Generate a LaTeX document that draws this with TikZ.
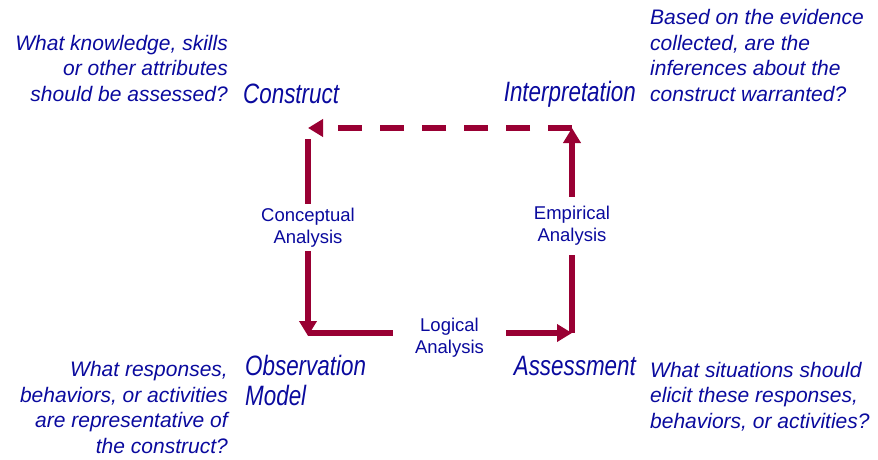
\documentclass[tikz,border=0pt]{standalone}
\usepackage{fontspec}
\setmainfont{Liberation Sans}
\newfontfamily\narrowit[FakeStretch=0.8]{Liberation Sans}
\usetikzlibrary{arrows.meta}
\definecolor{arrowred}{HTML}{990033}
\definecolor{textblue}{HTML}{0A0A9E}
\tikzset{
  stage/.style={text=textblue, font=\narrowit\itshape\fontsize{28}{30}\selectfont, inner sep=0pt},
  question/.style={text=textblue, font=\itshape\fontsize{21}{25.5}\selectfont, inner sep=0pt},
  analysis/.style={text=textblue, font=\fontsize{18.5}{22}\selectfont, align=center, fill=white, inner sep=2pt},
  flow/.style={draw=arrowred, line width=5.5pt, -{Triangle[width=17pt,length=15pt]}},
}
\begin{document}
\begin{tikzpicture}[x=1pt,y=-1pt]
\useasboundingbox (0,0) rectangle (878,460);
% stage labels
\node[stage, anchor=base west] (construct) at (243,103) {Construct};
\node[stage, anchor=base east] (interp) at (636,101) {Interpretation};
\node[stage, anchor=base west, align=left] (obs) at (245,405) {Observation\\Model};
\node[stage, anchor=base east] (assess) at (636,375) {Assessment};
% questions
\node[question, anchor=base east, align=right] (q1) at (228,101) {What knowledge, skills\\or other attributes\\should be assessed?};
\node[question, anchor=base west, align=left] (q2) at (650,101) {Based on the evidence\\collected, are the\\inferences about the\\construct warranted?};
\node[question, anchor=base east, align=right] (q3) at (228,453) {What responses,\\behaviors, or activities\\are representative of\\the construct?};
\node[question, anchor=base west, align=left] (q4) at (650,428) {What situations should\\elicit these responses,\\behaviors, or activities?};
% corners
\coordinate (tl) at (308,128);
\coordinate (tr) at (572,128);
\coordinate (bl) at (308,333);
\coordinate (br) at (572,333);
\coordinate (tlstart) at (308,139);
\coordinate (blend) at (308,336);
% connectors
\draw[flow] (tlstart) -- node[analysis, pos=0.45, inner ysep=4pt] (concept) {Conceptual\\Analysis} (blend);
\draw[flow] (bl) -- node[analysis, pos=0.536, yshift=-5pt, inner xsep=22pt] (logical) {Logical\\Analysis} (br);
\draw[flow] (br) -- node[analysis, pos=0.522, inner ysep=9pt] (empirical) {Empirical\\Analysis} (tr);
\draw[flow, dash pattern=on 24pt off 18pt] (tr) -- (tl);
\end{tikzpicture}
\end{document}
